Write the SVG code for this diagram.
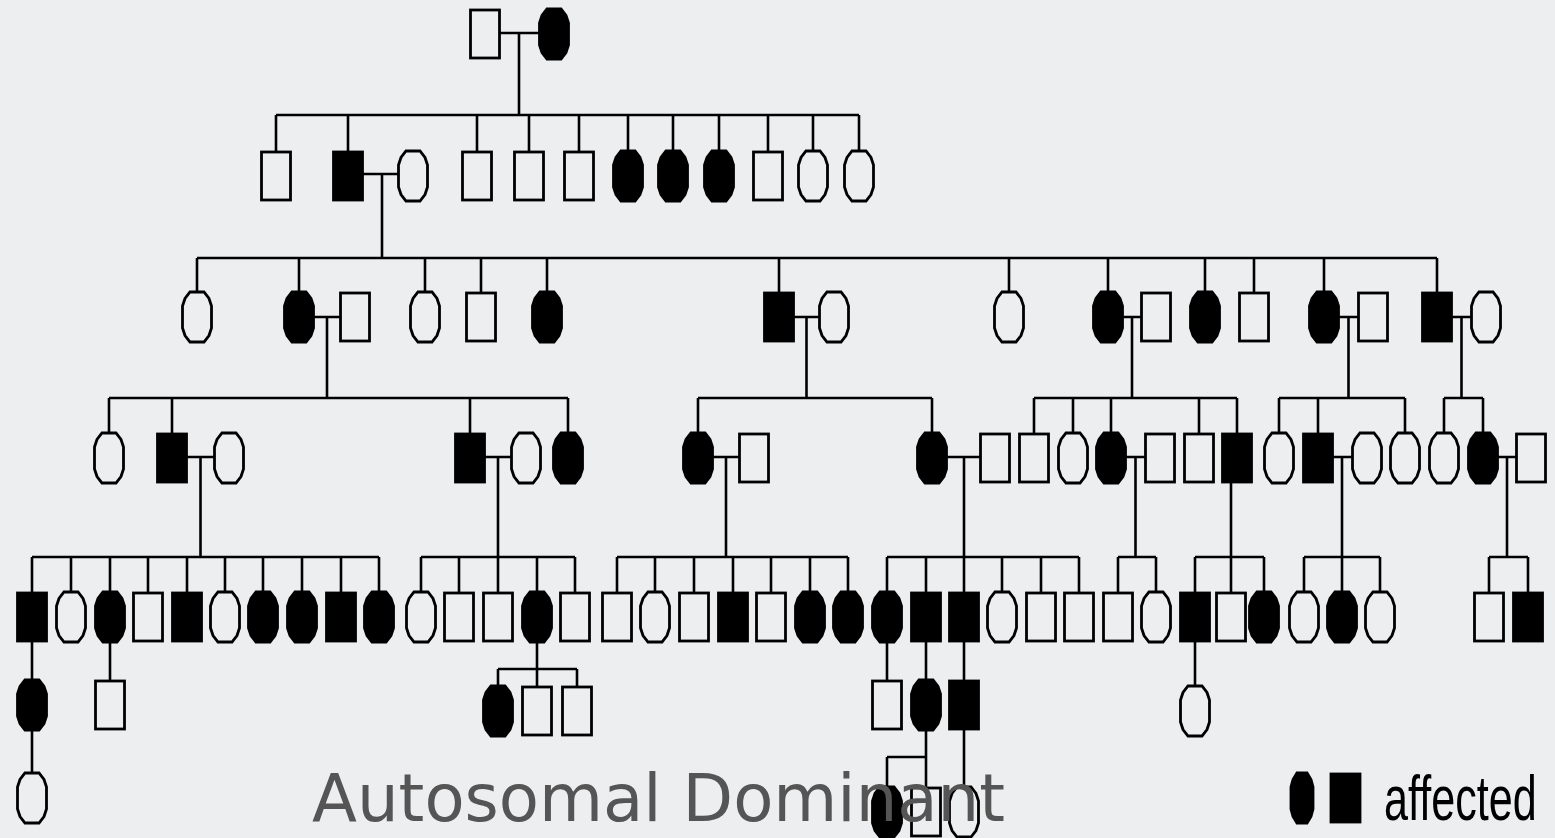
<svg xmlns="http://www.w3.org/2000/svg" width="1555" height="838" viewBox="0 0 1555 838">
<style>
.e{fill:none;stroke:#000;stroke-width:2.8}
.f{fill:#000;stroke:#000;stroke-width:2.8}
#connectors path{fill:none;stroke:#000;stroke-width:2.6}
.title{font-family:"DejaVu Sans","Noto Sans",sans-serif;font-size:66px;fill:#555}
.leg{font-family:"Liberation Sans",Arial,sans-serif;font-size:63px;fill:#000}
</style>
<defs>
<rect id="sq" x="-14.5" y="-24" width="29" height="48"/>
<polygon id="oc" points="-7,-25 7,-25 12,-18.5 14.5,-11 14.5,11 12,18.5 7,25 -7,25 -12,18.5 -14.5,11 -14.5,-11 -12,-18.5"/>
<polygon id="ocn" points="-5,-25 5,-25 9,-18.5 11,-11 11,11 9,18.5 5,25 -5,25 -9,18.5 -11,11 -11,-11 -9,-18.5"/>
</defs>
<rect width="1555" height="838" fill="#edeef0"/>
<g id="connectors">
<path d="M499.5 33H539.5M519 33V115M276 115H859M276 115V152M348 115V152M477 115V152M529 115V152M579 115V152M628 115V151M673 115V151M719 115V151M768 115V152M813 115V151M859 115V151M362.5 174H398.5M382 174V258"/>
<path d="M197 258H1437M197 258V292M299 258V292M425 258V292M481 258V293M547 258V292M779 258V293M1009 258V292M1108 258V292M1205 258V292M1254 258V293M1324 258V292M1437 258V293M313.5 317H340.5M327 317V398M793.5 317H819.5M806.5 317V398M1122.5 317H1141.5M1132 317V398M1338.5 317H1358.5M1348.5 317V398M1451.5 317H1471.5M1461.5 317V398"/>
<path d="M109 398H568M698 398H932M1034 398H1237M1279 398H1405M1444 398H1483M109 398V433M172 398V434M470 398V434M568 398V433M698 398V433M932 398V433M1034 398V434M1073 398V433M1111 398V433M1199 398V434M1237 398V434M1279 398V433M1318 398V434M1405 398V433M1444 398V433M1483 398V433"/>
<path d="M186.5 457H214.5M200.5 457V557M484.5 457H511.5M498 457V557M712.5 457H739.5M726 457V557M946.5 457H980.5M964 457V557M1125.5 457H1145.5M1135.5 457V557M1332.5 457H1352.5M1342 457V557M1497.5 457H1516.5M1507 457V557M1231 482V557"/>
<path d="M32 557H379M421 557H575M617 557H848M887 557H1079M1118 557H1156M1195 557H1264M1304 557H1380M1489 557H1528M32 557V593M71 557V592M110 557V592M148 557V593M187 557V593M225 557V592M263 557V592M302 557V592M341 557V593M379 557V592M421 557V592M459 557V593M498 557V593M537 557V592M575 557V593M617 557V593M655 557V592M694 557V593M733 557V593M771 557V593M810 557V592M848 557V592M887 557V592M926 557V593M964 557V593M1002 557V592M1041 557V593M1079 557V593M1118 557V593M1156 557V592M1195 557V593M1231 557V593M1264 557V592M1304 557V592M1342 557V592M1380 557V592M1489 557V593M1528 557V593"/>
<path d="M32 641V680M110 641V681M537 641V669M498 669H577M498 669V686M537 669V687M577 669V687M887 641V681M926 641V680M964 641V681M1195 641V686M32 730V773M926 730V757M887 757H926M887 757V787M926 757V788M964 729V787"/>
</g>
<g id="I1"><use href="#sq" x="485" y="34" class="e"/></g>
<g id="I2"><use href="#oc" x="554" y="34" class="f"/></g>
<g id="II1"><use href="#sq" x="276" y="176" class="e"/></g>
<g id="II2"><use href="#sq" x="348" y="176" class="f"/></g>
<g id="II2s"><use href="#oc" x="413" y="176" class="e"/></g>
<g id="II3"><use href="#sq" x="477" y="176" class="e"/></g>
<g id="II4"><use href="#sq" x="529" y="176" class="e"/></g>
<g id="II5"><use href="#sq" x="579" y="176" class="e"/></g>
<g id="II6"><use href="#oc" x="628" y="176" class="f"/></g>
<g id="II7"><use href="#oc" x="673" y="176" class="f"/></g>
<g id="II8"><use href="#oc" x="719" y="176" class="f"/></g>
<g id="II9"><use href="#sq" x="768" y="176" class="e"/></g>
<g id="II10"><use href="#oc" x="813" y="176" class="e"/></g>
<g id="II11"><use href="#oc" x="859" y="176" class="e"/></g>
<g id="III1"><use href="#oc" x="197" y="317" class="e"/></g>
<g id="III2"><use href="#oc" x="299" y="317" class="f"/></g>
<g id="III2s"><use href="#sq" x="355" y="317" class="e"/></g>
<g id="III3"><use href="#oc" x="425" y="317" class="e"/></g>
<g id="III4"><use href="#sq" x="481" y="317" class="e"/></g>
<g id="III5"><use href="#oc" x="547" y="317" class="f"/></g>
<g id="III6"><use href="#sq" x="779" y="317" class="f"/></g>
<g id="III6s"><use href="#oc" x="834" y="317" class="e"/></g>
<g id="III7"><use href="#oc" x="1009" y="317" class="e"/></g>
<g id="III8"><use href="#oc" x="1108" y="317" class="f"/></g>
<g id="III8s"><use href="#sq" x="1156" y="317" class="e"/></g>
<g id="III9"><use href="#oc" x="1205" y="317" class="f"/></g>
<g id="III10"><use href="#sq" x="1254" y="317" class="e"/></g>
<g id="III11"><use href="#oc" x="1324" y="317" class="f"/></g>
<g id="III11s"><use href="#sq" x="1373" y="317" class="e"/></g>
<g id="III12"><use href="#sq" x="1437" y="317" class="f"/></g>
<g id="III12s"><use href="#oc" x="1486" y="317" class="e"/></g>
<g id="IV1"><use href="#oc" x="109" y="458" class="e"/></g>
<g id="IV2"><use href="#sq" x="172" y="458" class="f"/></g>
<g id="IV2s"><use href="#oc" x="229" y="458" class="e"/></g>
<g id="IV3"><use href="#sq" x="470" y="458" class="f"/></g>
<g id="IV3s"><use href="#oc" x="526" y="458" class="e"/></g>
<g id="IV4"><use href="#oc" x="568" y="458" class="f"/></g>
<g id="IV5"><use href="#oc" x="698" y="458" class="f"/></g>
<g id="IV5s"><use href="#sq" x="754" y="458" class="e"/></g>
<g id="IV6"><use href="#oc" x="932" y="458" class="f"/></g>
<g id="IV6s"><use href="#sq" x="995" y="458" class="e"/></g>
<g id="IV7"><use href="#sq" x="1034" y="458" class="e"/></g>
<g id="IV8"><use href="#oc" x="1073" y="458" class="e"/></g>
<g id="IV9"><use href="#oc" x="1111" y="458" class="f"/></g>
<g id="IV9s"><use href="#sq" x="1160" y="458" class="e"/></g>
<g id="IV10"><use href="#sq" x="1199" y="458" class="e"/></g>
<g id="IV11"><use href="#sq" x="1237" y="458" class="f"/></g>
<g id="IV12"><use href="#oc" x="1279" y="458" class="e"/></g>
<g id="IV13"><use href="#sq" x="1318" y="458" class="f"/></g>
<g id="IV13s"><use href="#oc" x="1367" y="458" class="e"/></g>
<g id="IV14"><use href="#oc" x="1405" y="458" class="e"/></g>
<g id="IV15"><use href="#oc" x="1444" y="458" class="e"/></g>
<g id="IV16"><use href="#oc" x="1483" y="458" class="f"/></g>
<g id="IV16s"><use href="#sq" x="1531" y="458" class="e"/></g>
<g id="V1"><use href="#sq" x="32" y="617" class="f"/></g>
<g id="V2"><use href="#oc" x="71" y="617" class="e"/></g>
<g id="V3"><use href="#oc" x="110" y="617" class="f"/></g>
<g id="V4"><use href="#sq" x="148" y="617" class="e"/></g>
<g id="V5"><use href="#sq" x="187" y="617" class="f"/></g>
<g id="V6"><use href="#oc" x="225" y="617" class="e"/></g>
<g id="V7"><use href="#oc" x="263" y="617" class="f"/></g>
<g id="V8"><use href="#oc" x="302" y="617" class="f"/></g>
<g id="V9"><use href="#sq" x="341" y="617" class="f"/></g>
<g id="V10"><use href="#oc" x="379" y="617" class="f"/></g>
<g id="V11"><use href="#oc" x="421" y="617" class="e"/></g>
<g id="V12"><use href="#sq" x="459" y="617" class="e"/></g>
<g id="V13"><use href="#sq" x="498" y="617" class="e"/></g>
<g id="V14"><use href="#oc" x="537" y="617" class="f"/></g>
<g id="V15"><use href="#sq" x="575" y="617" class="e"/></g>
<g id="V16"><use href="#sq" x="617" y="617" class="e"/></g>
<g id="V17"><use href="#oc" x="655" y="617" class="e"/></g>
<g id="V18"><use href="#sq" x="694" y="617" class="e"/></g>
<g id="V19"><use href="#sq" x="733" y="617" class="f"/></g>
<g id="V20"><use href="#sq" x="771" y="617" class="e"/></g>
<g id="V21"><use href="#oc" x="810" y="617" class="f"/></g>
<g id="V22"><use href="#oc" x="848" y="617" class="f"/></g>
<g id="V23"><use href="#oc" x="887" y="617" class="f"/></g>
<g id="V24"><use href="#sq" x="926" y="617" class="f"/></g>
<g id="V25"><use href="#sq" x="964" y="617" class="f"/></g>
<g id="V26"><use href="#oc" x="1002" y="617" class="e"/></g>
<g id="V27"><use href="#sq" x="1041" y="617" class="e"/></g>
<g id="V28"><use href="#sq" x="1079" y="617" class="e"/></g>
<g id="V29"><use href="#sq" x="1118" y="617" class="e"/></g>
<g id="V30"><use href="#oc" x="1156" y="617" class="e"/></g>
<g id="V31"><use href="#sq" x="1195" y="617" class="f"/></g>
<g id="V32"><use href="#sq" x="1231" y="617" class="e"/></g>
<g id="V33"><use href="#oc" x="1264" y="617" class="f"/></g>
<g id="V34"><use href="#oc" x="1304" y="617" class="e"/></g>
<g id="V35"><use href="#oc" x="1342" y="617" class="f"/></g>
<g id="V36"><use href="#oc" x="1380" y="617" class="e"/></g>
<g id="V37"><use href="#sq" x="1489" y="617" class="e"/></g>
<g id="V38"><use href="#sq" x="1528" y="617" class="f"/></g>
<g id="VI1"><use href="#oc" x="32" y="705" class="f"/></g>
<g id="VI2"><use href="#sq" x="110" y="705" class="e"/></g>
<g id="VI3"><use href="#oc" x="498" y="711" class="f"/></g>
<g id="VI4"><use href="#sq" x="537" y="711" class="e"/></g>
<g id="VI5"><use href="#sq" x="577" y="711" class="e"/></g>
<g id="VI6"><use href="#sq" x="887" y="705" class="e"/></g>
<g id="VI7"><use href="#oc" x="926" y="705" class="f"/></g>
<g id="VI8"><use href="#sq" x="964" y="705" class="f"/></g>
<g id="VI9"><use href="#oc" x="1195" y="711" class="e"/></g>
<g id="VII1"><use href="#oc" x="32" y="798" class="e"/></g>
<g id="VII2"><use href="#oc" x="887" y="812" class="f"/></g>
<g id="VII3"><use href="#sq" x="926" y="812" class="e"/></g>
<g id="VII4"><use href="#oc" x="964" y="812" class="e"/></g>
<g id="legend">
<use href="#ocn" x="1302" y="798" class="f"/>
<use href="#sq" x="1345.5" y="798" class="f"/>
<text class="leg" transform="translate(1384 820) scale(0.685 1)">affected</text>
</g>
<text id="title" class="title" x="312" y="821" textLength="693" lengthAdjust="spacingAndGlyphs">Autosomal Dominant</text>
</svg>
